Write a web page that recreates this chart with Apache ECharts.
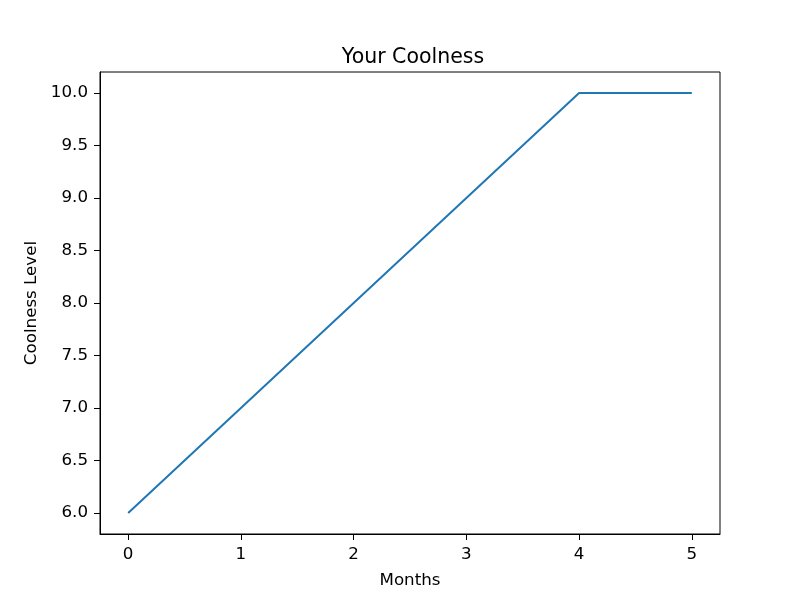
<!DOCTYPE html>
<html>
<head>
<meta charset="utf-8">
<script src="https://cdn.jsdelivr.net/npm/echarts@6/dist/echarts.min.js"></script>
<style>html,body{margin:0;padding:0;background:#fff}#c{width:797px;height:601px}</style>
</head>
<body>
<div id="c"></div>
<script>
const months = [0, 1, 2, 3, 4, 5];
const coolness = [6, 7, 8, 9, 10, 10];
const xTicks = [0, 1, 2, 3, 4, 5];
const yTicks = [6.0, 6.5, 7.0, 7.5, 8.0, 8.5, 9.0, 9.5, 10.0];

const font = 'DejaVu Sans';
const chart = echarts.init(document.getElementById('c'), null, {renderer: 'canvas'});
chart.setOption({
  animation: false,
  backgroundColor: '#fff',
  title: {
    text: 'Your Coolness',
    left: 408, top: 42, textAlign: 'center',
    textStyle: {fontFamily: font, fontSize: 20.5, fontWeight: 'normal', color: '#000'}
  },
  grid: {left: 100, right: 77, top: 72, bottom: 67, show: true, borderColor: '#000', borderWidth: 1, backgroundColor: 'transparent'},
  xAxis: {
    type: 'value', min: -0.25, max: 5.25,
    name: 'Months', nameLocation: 'middle', nameGap: 38,
    nameTextStyle: {fontFamily: font, fontSize: 16.7, color: '#000'},
    axisLine: {show: true, onZero: false, lineStyle: {color: '#000', width: 1}},
    axisTick: {show: true, length: 6, lineStyle: {color: '#000'}, customValues: xTicks},
    axisLabel: {fontFamily: font, fontSize: 16.7, color: '#000', margin: 12, customValues: xTicks, formatter: v => String(v)},
    splitLine: {show: false}
  },
  yAxis: {
    type: 'value', min: 5.8, max: 10.2,
    name: 'Coolness Level', nameLocation: 'middle', nameGap: 60, nameRotate: 90,
    nameTextStyle: {fontFamily: font, fontSize: 16.7, color: '#000'},
    axisLine: {show: true, onZero: false, lineStyle: {color: '#000', width: 1}},
    axisTick: {show: true, length: 6, lineStyle: {color: '#000'}, customValues: yTicks},
    axisLabel: {fontFamily: font, fontSize: 16.7, color: '#000', margin: 12, customValues: yTicks, formatter: v => v.toFixed(1)},
    splitLine: {show: false}
  },
  series: [{
    type: 'line',
    data: months.map((m, i) => [m, coolness[i]]),
    showSymbol: false,
    lineStyle: {color: '#1f77b4', width: 2},
    itemStyle: {color: '#1f77b4'}
  }]
});
</script>
</body>
</html>
